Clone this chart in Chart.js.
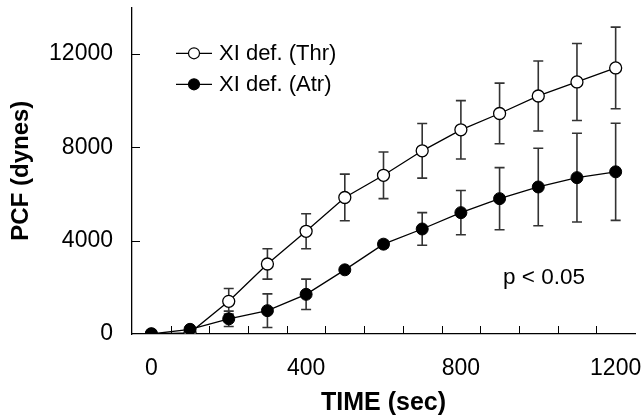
<!DOCTYPE html>
<html>
<head>
<meta charset="utf-8">
<script src="https://cdn.jsdelivr.net/npm/chart.js@4.4.1/dist/chart.umd.min.js"></script>
<style>
  html, body { margin: 0; padding: 0; background: #fff; }
  #wrap { width: 643px; height: 418px; }
</style>
</head>
<body>
<div id="wrap"><canvas id="pcf-chart"></canvas></div>
<script>
// time points (sec)
const timeSec = [0, 100, 200, 300, 400, 500, 600, 700, 800, 900, 1000, 1100, 1200];

// XI def. (Thr) - open circles
const thrMean = [0, 50, 1400, 3000, 4400, 5850, 6800, 7850, 8750, 9450, 10200, 10800, 11400];
const thrErr  = [0, 0, 550, 650, 750, 1000, 1000, 1170, 1250, 1300, 1500, 1650, 1750];

// XI def. (Atr) - filled circles
const atrMean = [0, 200, 650, 1000, 1700, 2750, 3850, 4500, 5200, 5800, 6300, 6700, 6950];
const atrErr  = [0, 0, 330, 720, 650, 0, 150, 700, 950, 1330, 1660, 1900, 2080];

// axis ticks
const xTickLabels = [0, 400, 800, 1200];
const xTickMarks = [50, 150, 250, 350, 450, 550, 650, 750, 850, 950, 1050, 1150];
const yTickLabels = [0, 4000, 8000, 12000];

const FONT = "'Liberation Sans', Arial, Helvetica, sans-serif";

function toPoints(xs, ys) {
    return xs.map((x, i) => ({ x: x, y: ys[i] }));
}

// no extra room for edge labels, the chart area is fixed by hand
function noPadding(axis) {
    axis.paddingTop = 0;
    axis.paddingBottom = 0;
    axis.paddingLeft = 0;
    axis.paddingRight = 0;
}

// error bars (drawn under the points)
const errorBarPlugin = {
    id: "errorBars",
    beforeDatasetsDraw(chart) {
        const ctx = chart.ctx;
        const xs = chart.scales.x, ys = chart.scales.y;
        const sets = [[thrMean, thrErr], [atrMean, atrErr]];
        ctx.save();
        ctx.strokeStyle = "#333";
        ctx.lineWidth = 1.6;
        sets.forEach(([mean, err]) => {
            timeSec.forEach((t, i) => {
                if (!err[i]) return;
                const px = xs.getPixelForValue(t);
                const top = ys.getPixelForValue(mean[i] + err[i]);
                const bot = ys.getPixelForValue(mean[i] - err[i]);
                ctx.beginPath();
                ctx.moveTo(px, top); ctx.lineTo(px, bot);
                ctx.moveTo(px - 5, top); ctx.lineTo(px + 5, top);
                ctx.moveTo(px - 5, bot); ctx.lineTo(px + 5, bot);
                ctx.stroke();
            });
        });
        ctx.restore();
    }
};

// inward tick marks, legend and p-value text
const decorPlugin = {
    id: "decor",
    afterDraw(chart) {
        const ctx = chart.ctx;
        const xs = chart.scales.x, ys = chart.scales.y;
        const area = chart.chartArea;
        ctx.save();
        ctx.strokeStyle = "#000";
        ctx.lineWidth = 1;
        ctx.beginPath();
        xTickMarks.forEach(v => {
            const px = Math.round(xs.getPixelForValue(v)) + 0.5;
            ctx.moveTo(px, area.bottom);
            ctx.lineTo(px, area.bottom - 8);
        });
        yTickLabels.forEach(v => {
            if (v === 0) return;
            const py = Math.round(ys.getPixelForValue(v)) + 0.5;
            ctx.moveTo(area.left, py);
            ctx.lineTo(area.left + 8, py);
        });
        ctx.stroke();

        // legend
        const rows = [
            { label: "XI def. (Thr)", fill: "#fff", dy: 46 },
            { label: "XI def. (Atr)", fill: "#000", dy: 77 }
        ];
        ctx.font = "22px " + FONT;
        ctx.textBaseline = "middle";
        ctx.textAlign = "left";
        rows.forEach(r => {
            const y = area.top + r.dy;
            const x0 = area.left + 44;
            ctx.strokeStyle = "#000";
            ctx.lineWidth = 1.2;
            ctx.beginPath();
            ctx.moveTo(x0, y); ctx.lineTo(x0 + 36, y);
            ctx.stroke();
            ctx.beginPath();
            ctx.arc(x0 + 18, y, 5.5, 0, Math.PI * 2);
            ctx.fillStyle = r.fill;
            ctx.fill();
            ctx.stroke();
            ctx.fillStyle = "#000";
            ctx.fillText(r.label, x0 + 43, y + 1);
        });

        // significance
        ctx.font = "22.5px " + FONT;
        ctx.textAlign = "center";
        ctx.fillText("p < 0.05", xs.getPixelForValue(1015), ys.getPixelForValue(2400));
        ctx.restore();
    }
};

const ctx = document.getElementById("pcf-chart").getContext("2d");
window.pcfChart = new Chart(ctx, {
    type: "line",
    data: {
        datasets: [
            {
                label: "XI def. (Atr)",
                data: toPoints(timeSec, atrMean),
                borderColor: "#000",
                borderWidth: 1.3,
                backgroundColor: "#000",
                pointBackgroundColor: "#000",
                pointBorderColor: "#000",
                pointBorderWidth: 1,
                pointRadius: 6,
                tension: 0,
                order: 0
            },
            {
                label: "XI def. (Thr)",
                data: toPoints(timeSec, thrMean),
                borderColor: "#000",
                borderWidth: 1.3,
                backgroundColor: "#fff",
                pointBackgroundColor: "#fff",
                pointBorderColor: "#000",
                pointBorderWidth: 1.3,
                pointRadius: 6,
                tension: 0,
                order: 1
            }
        ]
    },
    options: {
        responsive: true,
        maintainAspectRatio: false,
        animation: false,
        events: [],
        layout: { padding: { top: 6, right: 8, left: 0, bottom: 0 } },
        plugins: {
            legend: { display: false },
            tooltip: { enabled: false }
        },
        scales: {
            x: {
                type: "linear",
                min: -50,
                max: 1250,
                afterBuildTicks: axis => { axis.ticks = xTickLabels.map(v => ({ value: v })); },
                afterFit: axis => { axis.height = 84; noPadding(axis); },
                grid: { display: false, drawTicks: false },
                border: { display: true, color: "#000", width: 1.3 },
                ticks: {
                    autoSkip: false,
                    maxRotation: 0,
                    padding: 21,
                    color: "#000",
                    font: { family: FONT, size: 23 },
                    callback: v => String(v)
                },
                title: {
                    display: true,
                    text: "TIME (sec)",
                    color: "#000",
                    font: { family: FONT, size: 25, weight: "bold" },
                    padding: { top: 0, bottom: 0 }
                }
            },
            y: {
                type: "linear",
                min: 0,
                max: 14000,
                afterBuildTicks: axis => { axis.ticks = yTickLabels.map(v => ({ value: v })); },
                afterFit: axis => { axis.width = 132; noPadding(axis); },
                grid: { display: false, drawTicks: false },
                border: { display: true, color: "#000", width: 1.3 },
                ticks: {
                    padding: 19,
                    color: "#000",
                    font: { family: FONT, size: 23 },
                    callback: v => String(v)
                },
                title: {
                    display: true,
                    text: "PCF (dynes)",
                    color: "#000",
                    font: { family: FONT, size: 24, weight: "bold" },
                    padding: { top: 7, bottom: 0 }
                }
            }
        }
    },
    plugins: [errorBarPlugin, decorPlugin]
});
</script>
</body>
</html>
